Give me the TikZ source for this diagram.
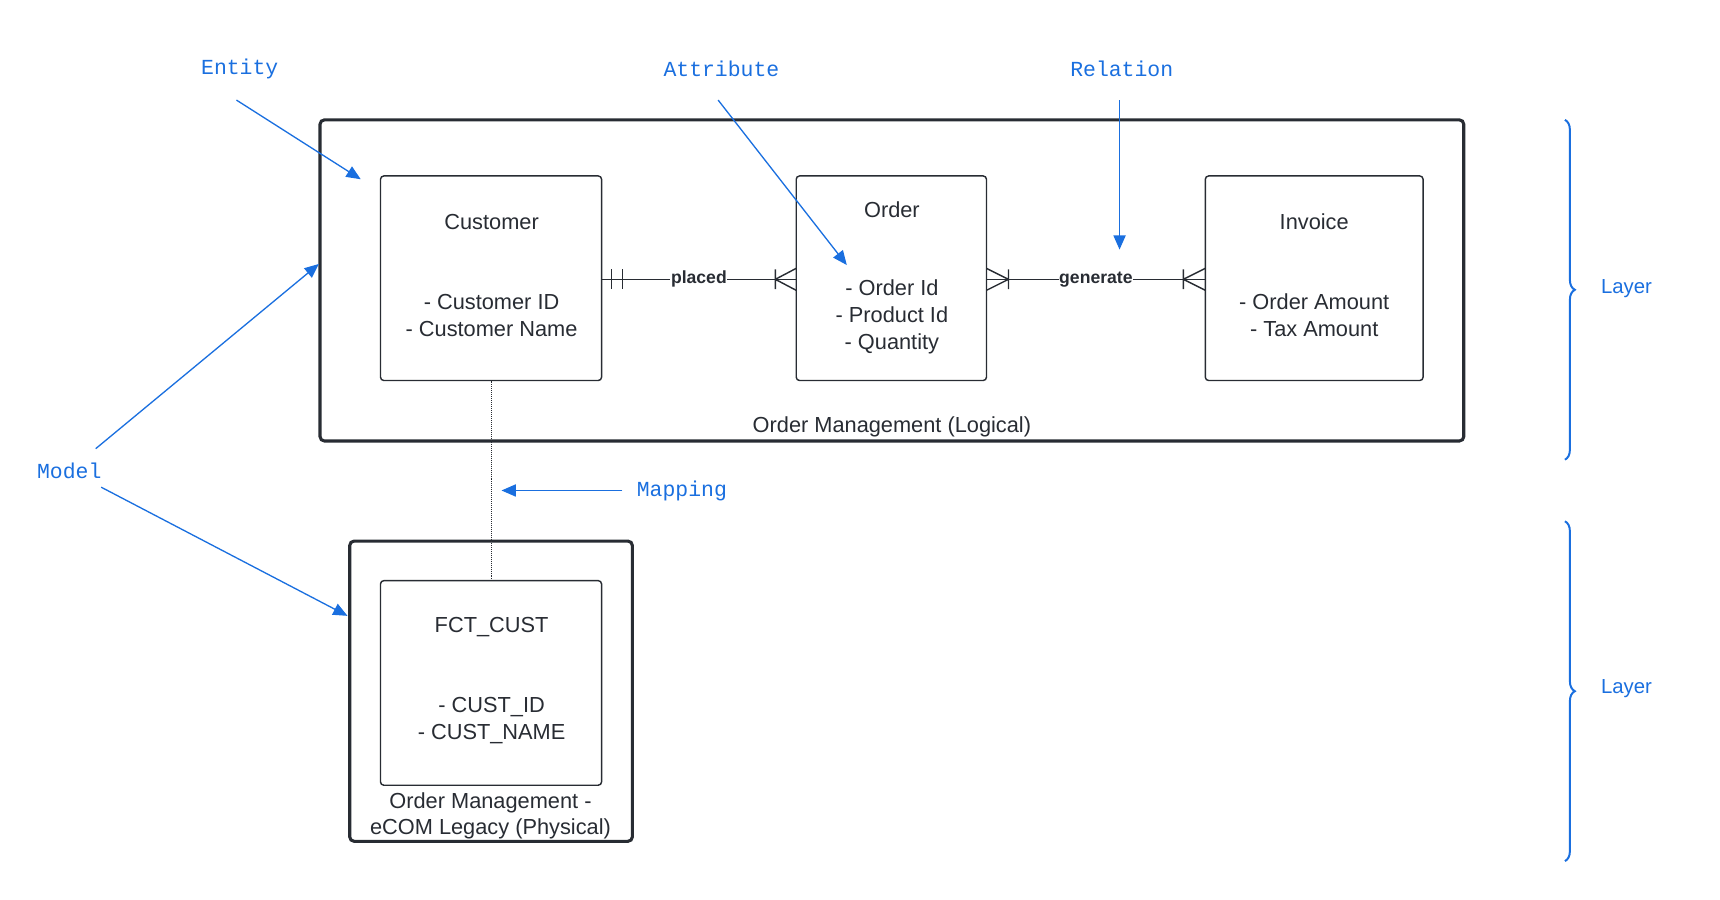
\documentclass[tikz,border=0pt]{standalone}
\usepackage{fontspec}
\setmainfont{Liberation Sans}
\newfontfamily\monof{Liberation Mono}
\usetikzlibrary{arrows.meta,decorations.pathreplacing}
\definecolor{bl}{HTML}{1A6FDF}
\definecolor{dk}{HTML}{282C33}
\begin{document}
\begin{tikzpicture}[x=1pt,y=-1pt,
  ent/.style={draw=dk,line width=1.3pt,rounded corners=3pt},
  outer/.style={draw=dk,line width=2.8pt,rounded corners=4pt},
  txt/.style={font=\fontsize{19.8}{23}\selectfont,text=dk,align=center},
  atx/.style={txt,font=\fontsize{19.8}{24.5}\selectfont},
  ann/.style={font=\monof\fontsize{19.5}{23}\selectfont,text=bl},
  aarr/.style={draw=bl,line width=1.2pt,-{Triangle[length=13pt,width=11pt]}},
  rel/.style={draw=dk,line width=1.3pt},
  rlab/.style={font=\bfseries\fontsize{16}{18}\selectfont,text=dk,fill=white,inner sep=0.5pt}]
\useasboundingbox (0,0) rectangle (1564,818);
% outer models
\draw[outer] (291,109) rectangle (1331,401);
\node[txt] (logl) at (811,388) {Order Management (Logical)};
\draw[outer] (318,492) rectangle (575,765);
\node[atx,font=\fontsize{19.8}{23}\selectfont] (phyl) at (446,742) {Order Management -\\eCOM Legacy (Physical)};
% entities
\draw[ent] (346,160) rectangle (547,346);
\node[txt] (custT) at (447,202) {Customer};
\node[atx] (custA) at (447,287) {- Customer ID\\- Customer Name};
\draw[ent] (724,160) rectangle (897,346);
\node[txt] (ordT) at (811,191) {Order};
\node[atx] (ordA) at (811,288) {- Order Id\\- Product Id\\- Quantity};
\draw[ent] (1096,160) rectangle (1294,346);
\node[txt] (invT) at (1195,202) {Invoice};
\node[atx] (invA) at (1195,287) {- Order Amount\\- Tax Amount};
\draw[ent] (346,528) rectangle (547,714);
\node[txt] (fctT) at (447,570) {FCT\_CUST};
\node[atx] (fctA) at (447,655) {- CUST\_ID\\- CUST\_NAME};
% relations
\coordinate (c1) at (547,254); \coordinate (o1) at (724,254);
\coordinate (o2) at (897,254); \coordinate (i1) at (1096,254);
\draw[rel] (c1) -- node[rlab,pos=0.5] (pl) {placed} (o1);
\draw[rel] (556,245) -- (556,263) (566,245) -- (566,263);
\draw[rel] (705,245) -- (705,263) (705,254) -- (724,244) (705,254) -- (724,264);
\draw[rel] (o2) -- node[rlab,pos=0.5] (ge) {generate} (i1);
\draw[rel] (917,245) -- (917,263) (917,254) -- (897,244) (917,254) -- (897,264);
\draw[rel] (1076,245) -- (1076,263) (1076,254) -- (1096,244) (1076,254) -- (1096,264);
% mapping
\coordinate (cb) at (447,346); \coordinate (ft) at (447,528);
\draw[dk,densely dotted,line width=0.8pt] (cb) -- (ft);
% annotations
\node[ann] (ent) at (218,63) {Entity};
\node[ann] (att) at (656,63) {Attribute};
\node[ann] (rla) at (1020,63) {Relation};
\node[ann] (mod) at (63,428) {Model};
\node[ann] (map) at (620,446) {Mapping};
\coordinate (e0) at (215,91); \coordinate (e1) at (328,163);
\coordinate (a0) at (653,91); \coordinate (a1) at (770,241);
\coordinate (r0) at (1018,91); \coordinate (r1) at (1018,227);
\coordinate (m0) at (87,408); \coordinate (m1) at (290,240);
\coordinate (m2) at (92,443); \coordinate (m3) at (316,560);
\coordinate (p0) at (566,446); \coordinate (p1) at (456,446);
\draw[aarr] (e0) -- (e1);
\draw[aarr] (a0) -- (a1);
\draw[aarr,line width=1.6pt] (r0) -- (r1);
\draw[aarr] (m0) -- (m1);
\draw[aarr] (m2) -- (m3);
\draw[aarr] (p0) -- (p1);
% braces
\draw[bl,line width=1.8pt,decorate,decoration={brace,amplitude=9pt}] (1423,109) -- (1423,418);
\draw[bl,line width=1.8pt,decorate,decoration={brace,amplitude=9pt}] (1423,474) -- (1423,783);
\node[font=\fontsize{18.5}{22}\selectfont,text=bl] (l1) at (1479,262) {Layer};
\node[font=\fontsize{18.5}{22}\selectfont,text=bl] (l2) at (1479,626) {Layer};
\end{tikzpicture}
\end{document}
